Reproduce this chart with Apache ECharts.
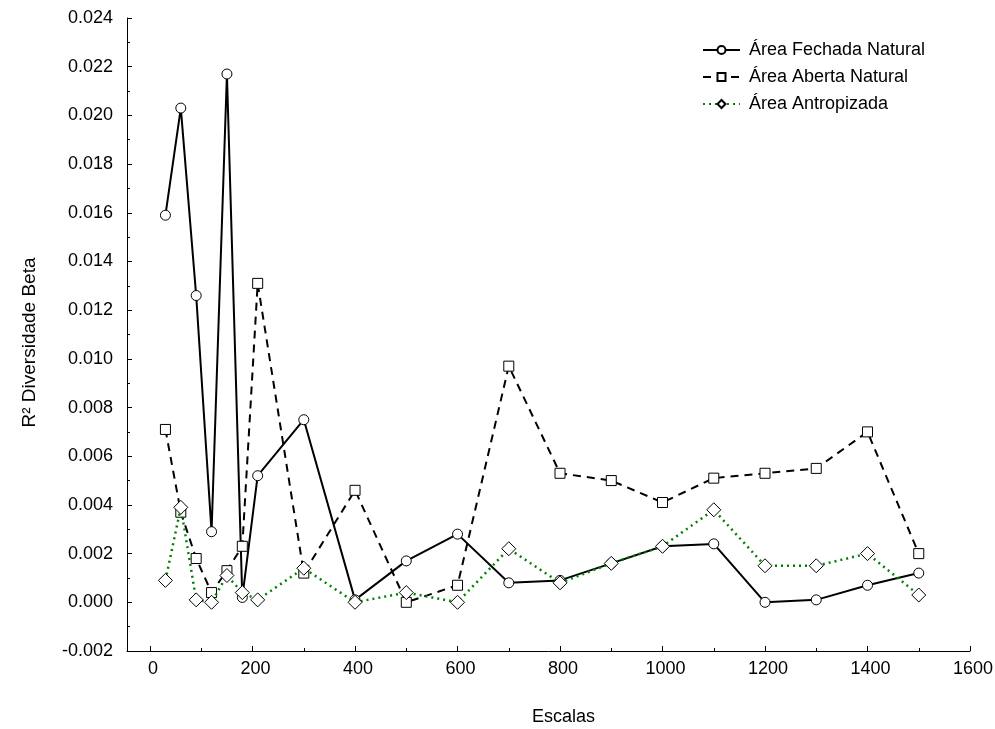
<!DOCTYPE html>
<html>
<head>
<meta charset="utf-8">
<script src="https://cdn.jsdelivr.net/npm/echarts@6/dist/echarts.min.js"></script>
<style>
  html, body { margin: 0; padding: 0; background: #ffffff; }
  #chart { width: 995px; height: 729px; }
</style>
</head>
<body>
<div id="chart"></div>
<script>
// Scale (x) at which beta diversity R² was computed
var escalas = [30, 60, 90, 120, 150, 180, 210, 300, 400, 500, 600, 700, 800, 900, 1000, 1100, 1200, 1300, 1400, 1500];

// R² values per landscape type
var fechadaNatural = [0.0159, 0.0203, 0.0126, 0.0029, 0.0217, 0.0002, 0.0052, 0.0075, 0.0001, 0.0017, 0.0028, 0.0008, 0.0009, 0.0016, 0.0023, 0.0024, 0.0000, 0.0001, 0.0007, 0.0012];
var abertaNatural = [0.0071, 0.0037, 0.0018, 0.0004, 0.0013, 0.0023, 0.0131, 0.0012, 0.0046, 0.0000, 0.0007, 0.0097, 0.0053, 0.0050, 0.0041, 0.0051, 0.0053, 0.0055, 0.0070, 0.0020];
var antropizada = [0.0009, 0.0039, 0.0001, 0.0000, 0.0011, 0.0004, 0.0001, 0.0014, 0.0000, 0.0004, 0.0000, 0.0022, 0.0008, 0.0016, 0.0023, 0.0038, 0.0015, 0.0015, 0.0020, 0.0003];

var seriesNames = ['Área Fechada Natural', 'Área Aberta Natural', 'Área Antropizada'];

// Tick positions on the x axis
var xMajorTicks = [0, 200, 400, 600, 800, 1000, 1200, 1400, 1600];
var xMinorTicks = [100, 300, 500, 700, 900, 1100, 1300, 1500];

function pairs(ys) {
  return escalas.map(function (x, i) { return [x, ys[i]]; });
}

var FONT = '"Liberation Sans", Arial, sans-serif';

var chart = echarts.init(document.getElementById('chart'), null, { renderer: 'canvas' });

chart.setOption({
  backgroundColor: '#ffffff',
  animation: false,
  textStyle: { fontFamily: FONT, color: '#000' },
  grid: { left: 127, right: 25, top: 18, bottom: 78, containLabel: false, outerBoundsMode: 'none' },
  legend: {
    orient: 'vertical',
    left: 697,
    top: 36,
    itemWidth: 37,
    itemHeight: 10,
    itemGap: 9,
    data: seriesNames,
    textStyle: { fontFamily: FONT, fontSize: 18, color: '#000', padding: [0, 0, 0, 4] }
  },
  xAxis: [
    {
      type: 'value',
      min: -45,
      max: 1600,
      name: 'Escalas',
      nameLocation: 'middle',
      nameGap: 57,
      nameTextStyle: { fontFamily: FONT, fontSize: 18, color: '#000', padding: [0, 0, 0, 30] },
      axisLine: { show: true, onZero: false, lineStyle: { color: '#000', width: 1 } },
      axisTick: { show: true, inside: true, length: 5, customValues: xMajorTicks, lineStyle: { color: '#000', width: 1 } },
      axisLabel: {
        show: true,
        customValues: xMajorTicks,
        margin: 9,
        fontFamily: FONT,
        fontSize: 18,
        color: '#000',
        padding: [0, 0, 0, 6],
        formatter: function (v) { return String(v); }
      },
      splitLine: { show: false }
    },
    {
      type: 'value',
      min: -45,
      max: 1600,
      position: 'bottom',
      axisLine: { show: false, onZero: false },
      axisTick: { show: true, inside: true, length: 3, customValues: xMinorTicks, lineStyle: { color: '#000', width: 1 } },
      axisLabel: { show: false },
      splitLine: { show: false }
    }
  ],
  yAxis: {
    type: 'value',
    min: -0.002,
    max: 0.024,
    interval: 0.002,
    name: 'R² Diversidade Beta',
    nameLocation: 'middle',
    nameGap: 88,
    nameRotate: 90,
    nameTextStyle: { fontFamily: FONT, fontSize: 19, color: '#000', padding: [0, 16, 0, 0] },
    axisLine: { show: true, onZero: false, lineStyle: { color: '#000', width: 1 } },
    axisTick: { show: true, inside: true, length: 5, lineStyle: { color: '#000', width: 1 } },
    minorTick: { show: true, splitNumber: 2, length: 3, lineStyle: { color: '#000', width: 1 } },
    axisLabel: {
      margin: 14,
      fontFamily: FONT,
      fontSize: 18,
      color: '#000',
      formatter: function (v) { return v.toFixed(3); }
    },
    splitLine: { show: false }
  },
  series: [
    {
      name: seriesNames[0],
      type: 'line',
      data: pairs(fechadaNatural),
      symbol: 'circle',
      symbolSize: 10,
      showAllSymbol: true,
      lineStyle: { color: '#000', width: 2, type: 'solid' },
      itemStyle: { color: '#fff', borderColor: '#000', borderWidth: 1 },
      z: 2
    },
    {
      name: seriesNames[1],
      type: 'line',
      data: pairs(abertaNatural),
      symbol: 'rect',
      symbolSize: 10,
      showAllSymbol: true,
      lineStyle: { color: '#000', width: 2, type: [8, 6] },
      itemStyle: { color: '#fff', borderColor: '#000', borderWidth: 1 },
      z: 3
    },
    {
      name: seriesNames[2],
      type: 'line',
      data: pairs(antropizada),
      symbol: 'diamond',
      symbolSize: 14,
      showAllSymbol: true,
      lineStyle: { color: '#008000', width: 2.5, type: [2, 4] },
      itemStyle: { color: '#fff', borderColor: '#000', borderWidth: 1 },
      z: 4
    }
  ]
});
</script>
</body>
</html>
